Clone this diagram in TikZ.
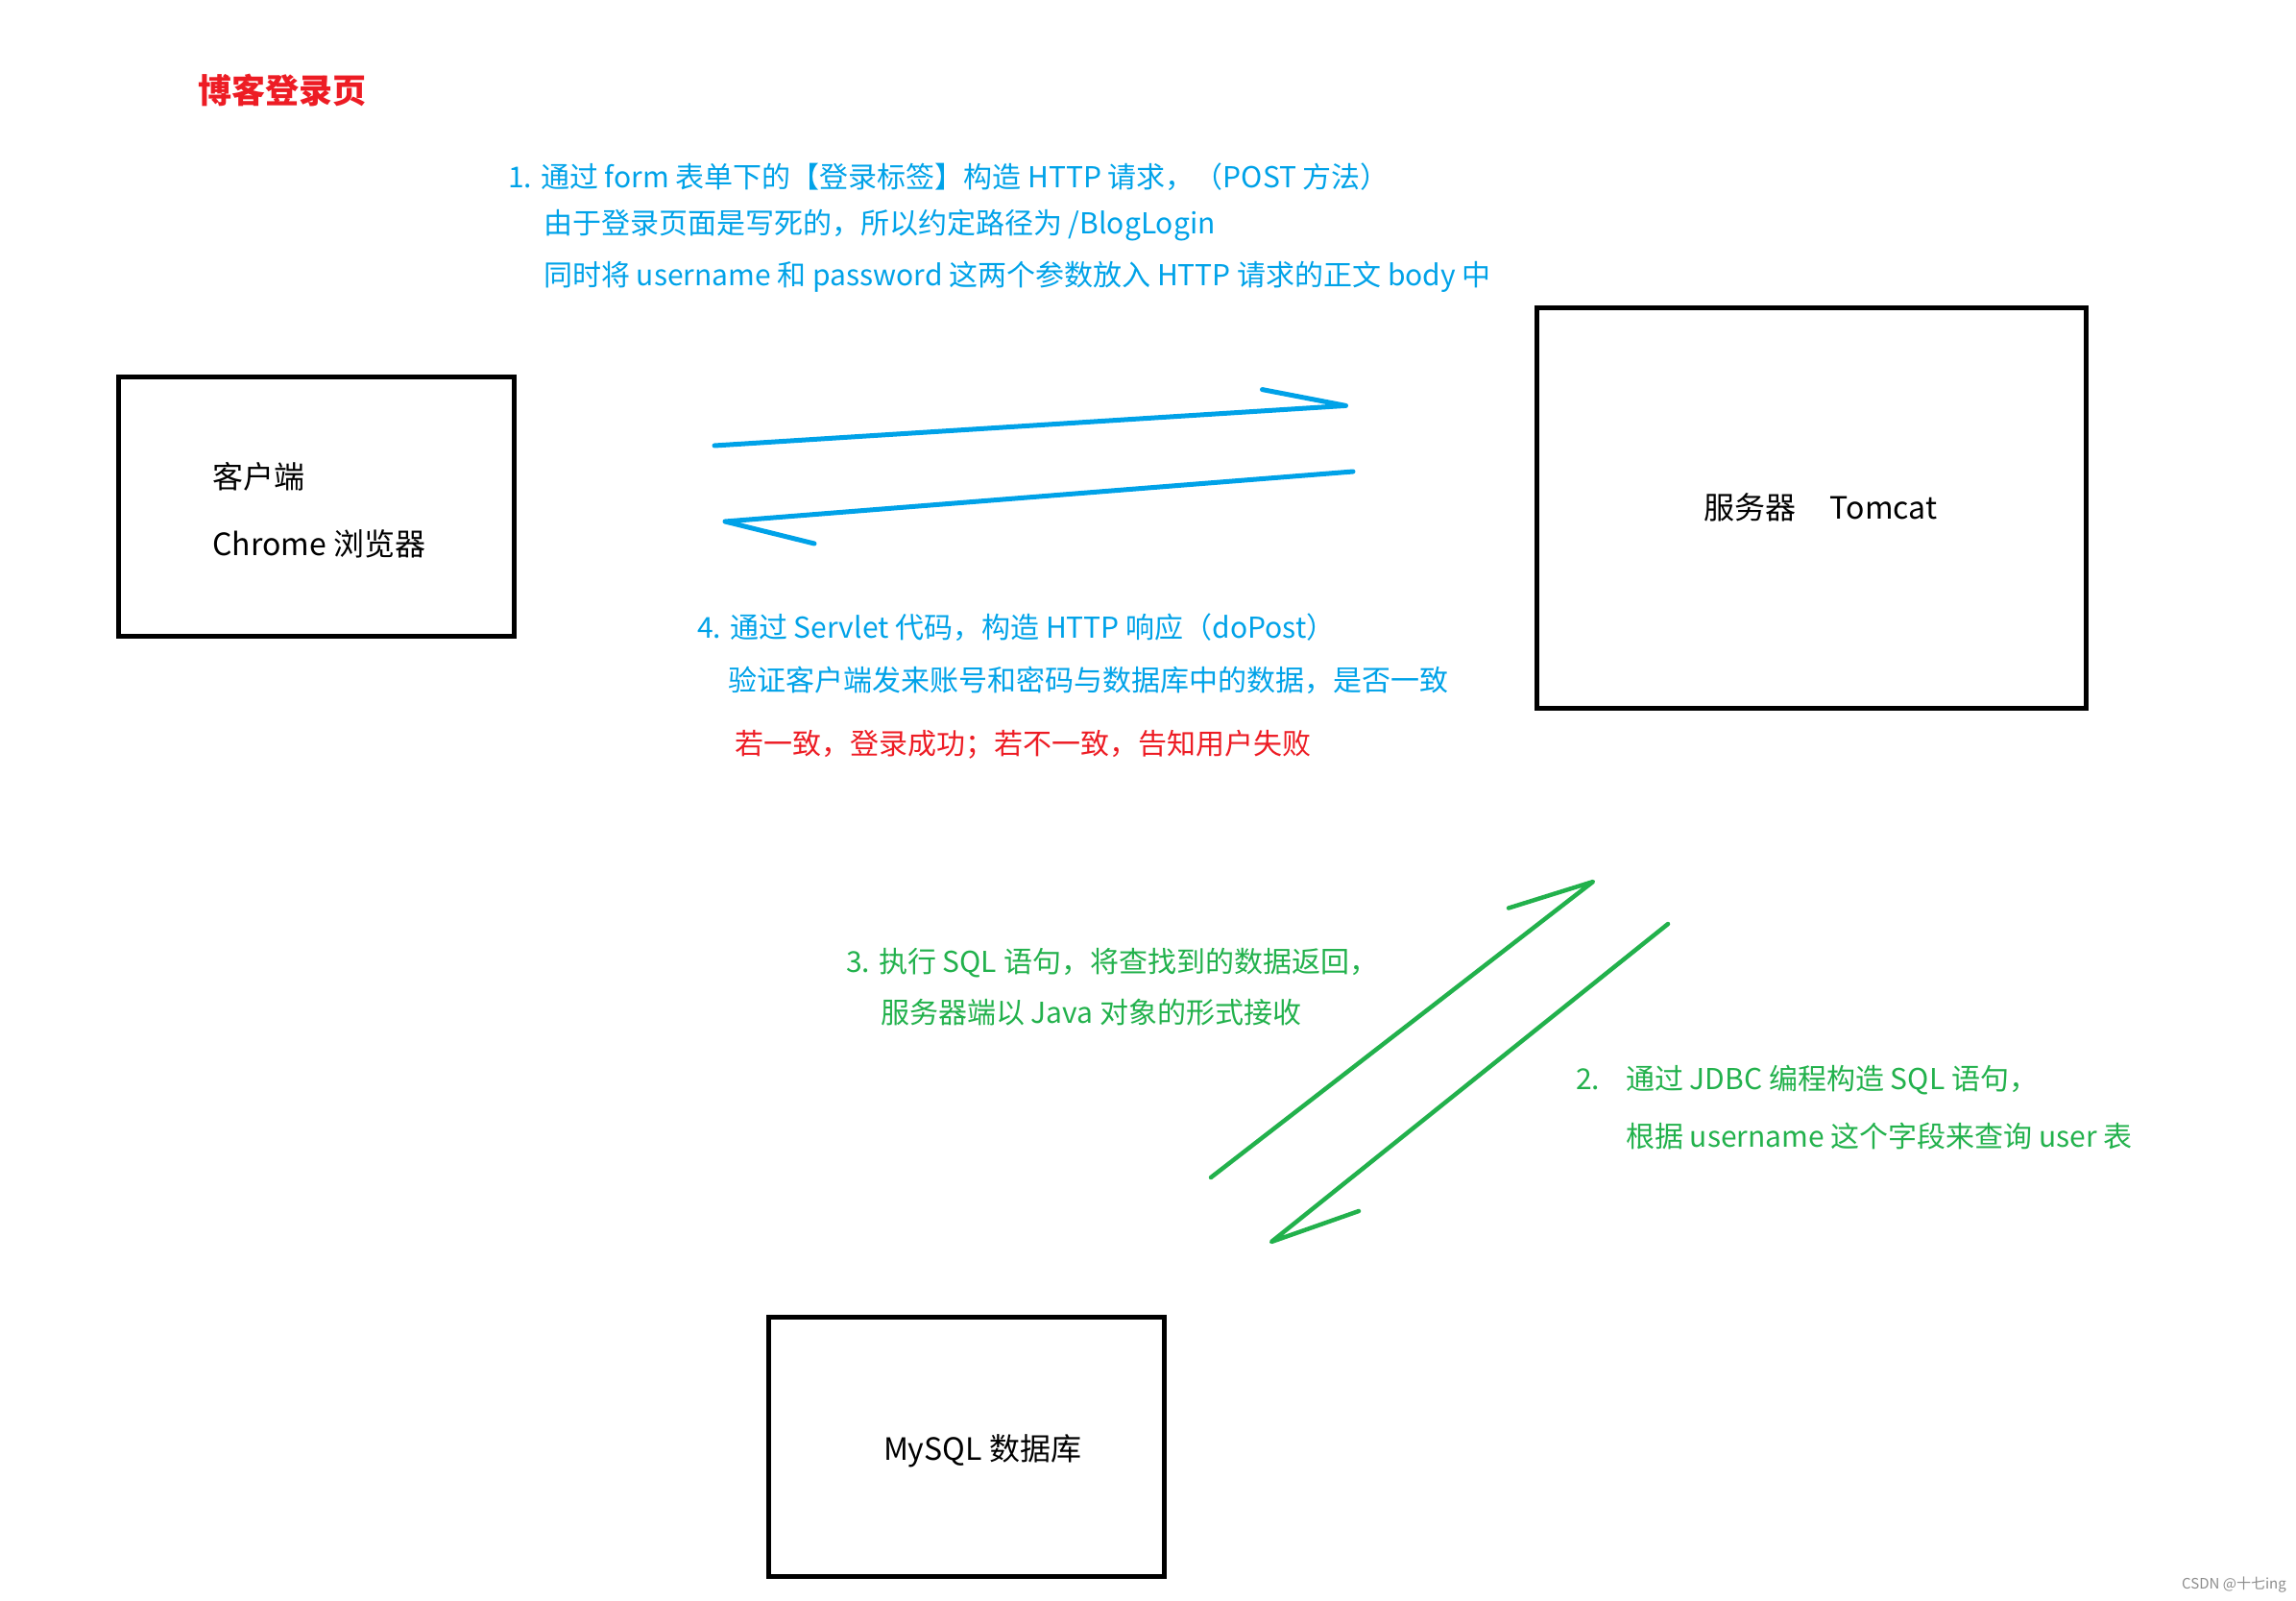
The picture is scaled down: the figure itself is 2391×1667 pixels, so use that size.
\documentclass[tikz,border=0pt]{standalone}
\usepackage{fontspec}
\setmainfont{Noto Sans CJK SC}
\usetikzlibrary{positioning}
\definecolor{paintblue}{RGB}{0,162,232}
\definecolor{paintgreen}{RGB}{34,177,76}
\definecolor{paintred}{RGB}{237,28,36}

\begin{document}
\begin{tikzpicture}[x=1pt, y=-1pt,
  box/.style={draw=black, line width=5pt, inner sep=0pt},
  note/.style={anchor=west, inner sep=0pt, font=\fontsize{30}{36}\selectfont},
  boxnote/.style={note, font=\fontsize{32}{38}\selectfont},
  bluenote/.style={note, text=paintblue},
  greennote/.style={note, text=paintgreen},
  rednote/.style={note, text=paintred},
  arr/.style={line width=5pt, line cap=round, line join=round}
]
\useasboundingbox (0,0) rectangle (2391,1667);
% title
\node[note, text=paintred, font=\fontsize{35}{40}\selectfont\bfseries] (title) at (206,94.5) {博客登录页};
% boxes
\node[box, minimum width=411.5pt, minimum height=270pt] (client) at (329.3,527) {};
\node[boxnote] (cli1) at (221,496) {客户端};
\node[boxnote] (cli2) at (221,566) {Chrome 浏览器};
\node[box, minimum width=572pt, minimum height=417pt] (server) at (1886,528.5) {};
\node[boxnote, anchor=center] (srvtxt) at (1896,528) {服务器\hspace{1.1em}Tomcat};
\node[box, minimum width=411.5pt, minimum height=270pt] (db) at (1006.3,1506) {};
\node[boxnote, anchor=center] (dbtxt) at (1023,1511) {MySQL 数据库};
% step 1
\node[bluenote] (s1a) at (529,184.5) {1. 通过 form 表单下的【登录标签】构造 HTTP 请求，（POST 方法）};
\node[bluenote] (s1b) at (566,235) {由于登录页面是写死的，所以约定路径为 /BlogLogin};
\node[bluenote] (s1c) at (566,288) {同时将 username 和 password 这两个参数放入 HTTP 请求的正文 body 中};
% step 4
\node[bluenote] (s4a) at (726,653) {4. 通过 Servlet 代码，构造 HTTP 响应（doPost）};
\node[bluenote] (s4b) at (758,708) {验证客户端发来账号和密码与数据库中的数据，是否一致};
\node[rednote] (s4c) at (765,775) {若一致，登录成功；若不一致，告知用户失败};
% step 3
\node[greennote] (s3a) at (881,1003) {3. 执行 SQL 语句，将查找到的数据返回，};
\node[greennote] (s3b) at (917,1054) {服务器端以 Java 对象的形式接收};
% step 2
\node[greennote] (s2a) at (1641,1125) {\makebox[52pt][l]{2.}通过 JDBC 编程构造 SQL 语句，};
\node[greennote] (s2b) at (1693,1183) {根据 username 这个字段来查询 user 表};
% watermark
\node[note, text=black!45, font=\fontsize{15}{18}\selectfont] (mark) at (2272,1650) {CSDN @十七ing};
% arrows
\coordinate (reqS) at (744,464);
\coordinate (reqT) at (1401.5,422.4);
\coordinate (reqB) at (1314.5,405.6);
\coordinate (resS) at (1409,491);
\coordinate (resT) at (755,543);
\coordinate (resB) at (848,566);
\coordinate (sqlS) at (1737,962);
\coordinate (sqlT) at (1324,1293);
\coordinate (sqlB) at (1415,1261);
\coordinate (retS) at (1261,1226);
\coordinate (retT) at (1659,918);
\coordinate (retB) at (1571,945.5);
\draw[arr, paintblue] (reqS) -- (reqT) -- (reqB);
\draw[arr, paintblue] (resS) -- (resT) -- (resB);
\draw[arr, paintgreen, line width=4.5pt] (sqlS) -- (sqlT) -- (sqlB);
\draw[arr, paintgreen, line width=4.5pt] (retS) -- (retT) -- (retB);
\end{tikzpicture}
\end{document}
